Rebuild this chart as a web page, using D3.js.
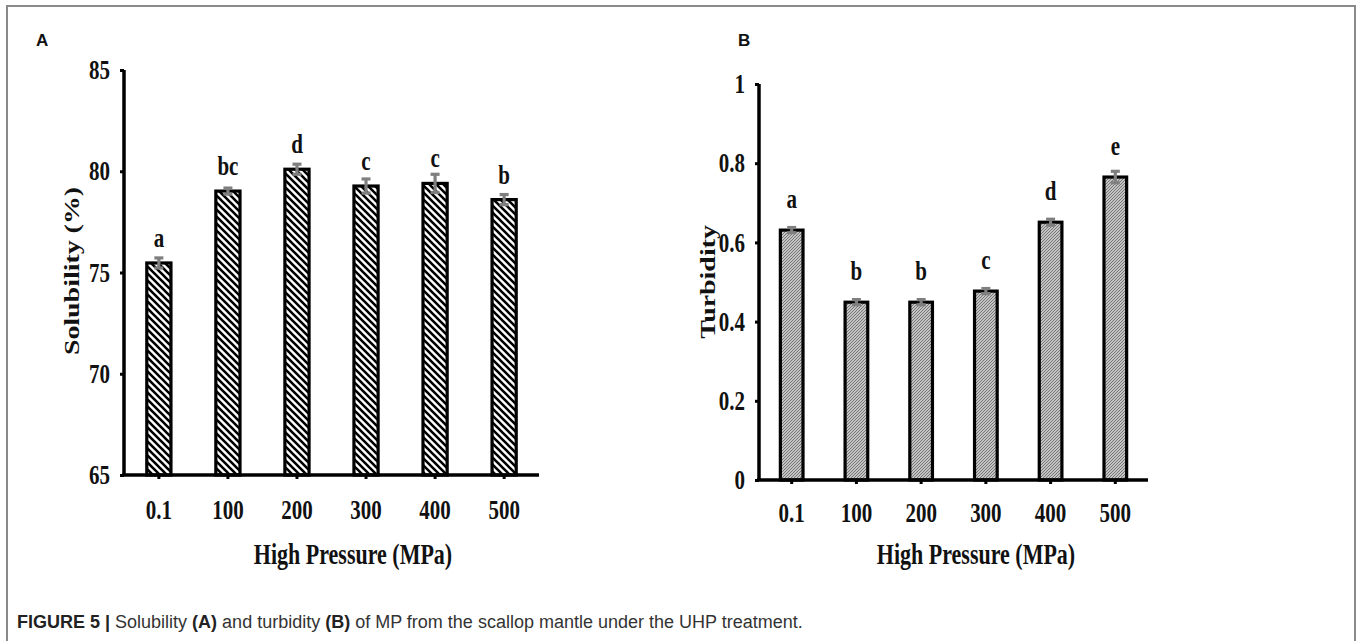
<!DOCTYPE html>
<html><head><meta charset="utf-8">
<script src="https://cdn.jsdelivr.net/npm/d3@7/dist/d3.min.js"></script>
<style>body{margin:0;background:#fff}svg{display:block}</style>
</head><body>
<script>
const categories = ["0.1","100","200","300","400","500"];
const solubility = [75.47, 79.02, 80.1, 79.27, 79.4, 78.6];
const solubilityErr = [0.2, 0.1, 0.2, 0.3, 0.4, 0.2];
const solubilityLetters = ["a","bc","d","c","c","b"];
const solubilityTicks = [65, 70, 75, 80, 85];
const turbidity = [0.631, 0.449, 0.449, 0.477, 0.651, 0.765];
const turbidityErr = [0.004, 0.004, 0.004, 0.004, 0.005, 0.012];
const turbidityLetters = ["a","b","b","c","d","e"];
const turbidityTicks = [0, 0.2, 0.4, 0.6, 0.8, 1];

const W = 1358, H = 641;
const S = 1.3; // vertical stretch of the original artwork's lettering
const svg = d3.select("body").append("svg").attr("width", W).attr("height", H);
const defs = svg.append("defs");
const pA = defs.append("pattern").attr("id","pA").attr("patternUnits","userSpaceOnUse")
  .attr("width",7).attr("height",7);
pA.append("rect").attr("width",7).attr("height",7).attr("fill","#fff");
pA.append("path").attr("d","M-1,-1 L8,8 M-1,6 L1,8 M6,-1 L8,1").attr("stroke","#000").attr("stroke-width",2.6);
const pB = defs.append("pattern").attr("id","pB").attr("patternUnits","userSpaceOnUse")
  .attr("width",3).attr("height",3);
pB.append("rect").attr("width",3).attr("height",3).attr("fill","#e6e6e6");
pB.append("path").attr("d","M-1,4 L4,-1 M-1,1 L1,-1 M2,4 L4,2").attr("stroke","#707070").attr("stroke-width",1.1);

svg.append("path").attr("d","M7,641 L7,6 L1355,6 L1355,641").attr("fill","none").attr("stroke","#8a8a8a").attr("stroke-width",2);

const serif = "'Liberation Serif','Times New Roman',serif";
const sans = "'Liberation Sans',Arial,sans-serif";

function stretch(sel, s){
  sel.each(function(){
    const t = d3.select(this);
    const x = +t.attr("x") || 0, y = +t.attr("y") || 0;
    t.attr("transform", `translate(${x},${y}) scale(1,${s})`).attr("x",0).attr("y",0);
  });
}

function panel(cfg){
  const g = svg.append("g");
  const x = d3.scaleBand().domain(categories).range([cfg.x0, cfg.x1]).paddingInner(0.65).paddingOuter(0.33);
  const y = d3.scaleLinear().domain(cfg.domain).range([cfg.yb, cfg.yt]);
  g.selectAll("rect.bar").data(cfg.values).join("rect")
    .attr("x",(d,i)=>x(categories[i])).attr("width",x.bandwidth())
    .attr("y",d=>y(d)).attr("height",d=>y(cfg.domain[0])-y(d))
    .attr("fill",`url(#${cfg.pattern})`).attr("stroke","#000").attr("stroke-width",3.2);
  const eg = g.append("g").attr("stroke","#7f7f7f").attr("stroke-width",3.2);
  cfg.values.forEach((v,i)=>{
    const cx = x(categories[i]) + x.bandwidth()/2;
    const e = cfg.err[i];
    eg.append("line").attr("x1",cx).attr("x2",cx).attr("y1",y(v-e)+1).attr("y2",y(v+e)-1);
    eg.append("line").attr("x1",cx-4.5).attr("x2",cx+4.5).attr("y1",y(v+e)-1).attr("y2",y(v+e)-1);
    eg.append("line").attr("x1",cx-4.5).attr("x2",cx+4.5).attr("y1",y(v-e)+1).attr("y2",y(v-e)+1);
  });
  const lt = g.selectAll("text.let").data(cfg.letters).join("text")
    .attr("x",(d,i)=>x(categories[i]) + x.bandwidth()/2)
    .attr("y",(d,i)=>y(cfg.values[i]) - cfg.letOff)
    .attr("text-anchor","middle").attr("font-family",serif).attr("font-weight","bold")
    .attr("font-size",21).attr("fill","#111").text(d=>d);
  stretch(lt, S);
  const ya = g.append("g").attr("transform",`translate(${cfg.x0},0)`)
    .call(d3.axisLeft(y).tickValues(cfg.ticks).tickSize(4).tickPadding(10).tickFormat(cfg.fmt));
  ya.select(".domain").attr("stroke","#000").attr("stroke-width",3.5).attr("d",`M0,${cfg.yb}V${cfg.yt}`);
  ya.selectAll(".tick line").attr("stroke","#000").attr("stroke-width",3);
  const yt = ya.selectAll(".tick text").attr("font-family",serif).attr("font-weight","bold").attr("font-size",21).attr("fill","#111");
  stretch(yt, S);
  const xa = g.append("g").attr("transform",`translate(0,${cfg.yb})`)
    .call(d3.axisBottom(x).tickSize(4).tickPadding(cfg.xpad));
  xa.select(".domain").attr("stroke","#000").attr("stroke-width",3.5).attr("d",`M${cfg.x0-2},0H${cfg.x1}`);
  xa.selectAll(".tick line").attr("stroke","#000").attr("stroke-width",3);
  const xt = xa.selectAll(".tick text").attr("font-family",serif).attr("font-weight","bold").attr("font-size",21).attr("fill","#111");
  stretch(xt, S);
  const tt = g.append("text").attr("x",cfg.xtX).attr("y",564).attr("text-anchor","middle")
    .attr("font-family",serif).attr("font-weight","bold").attr("font-size",22).attr("fill","#111").text("High Pressure (MPa)");
  stretch(tt, S);
  g.append("text").attr("transform",`translate(${cfg.ytX},${cfg.ytY}) rotate(-90) scale(1.33,1)`).attr("text-anchor","middle")
    .attr("font-family",serif).attr("font-weight","bold").attr("font-size",21).attr("fill","#111").text(cfg.ytitle);
  g.append("text").attr("x",cfg.lx).attr("y",46).attr("font-family",sans).attr("font-weight","bold")
    .attr("font-size",17).attr("fill","#111").text(cfg.label);
}

panel({x0:124, x1:539, yb:475, yt:70, domain:[65,85], values:solubility, err:solubilityErr,
  letters:solubilityLetters, ticks:solubilityTicks, fmt:d3.format("d"), pattern:"pA", letOff:16, xpad:21,
  xtX:353, ytX:79, ytY:271, ytitle:"Solubility (%)", lx:36, label:"A"});
panel({x0:759, x1:1148, yb:480, yt:84, domain:[0,1], values:turbidity, err:turbidityErr,
  letters:turbidityLetters, ticks:turbidityTicks, fmt:d=>d===0||d===1?String(d):d3.format(".1f")(d), pattern:"pB", letOff:22, xpad:19,
  xtX:976, ytX:715, ytY:282, ytitle:"Turbidity", lx:738, label:"B"});

const cap = svg.append("text").attr("x",17).attr("y",628).attr("font-family",sans).attr("font-size",18).attr("fill","#333");
cap.append("tspan").attr("font-weight","bold").attr("fill","#222").text("FIGURE 5 | ");
cap.append("tspan").text("Solubility ");
cap.append("tspan").attr("font-weight","bold").attr("fill","#222").text("(A)");
cap.append("tspan").text(" and turbidity ");
cap.append("tspan").attr("font-weight","bold").attr("fill","#222").text("(B)");
cap.append("tspan").text(" of MP from the scallop mantle under the UHP treatment.");
</script>
</body></html>
